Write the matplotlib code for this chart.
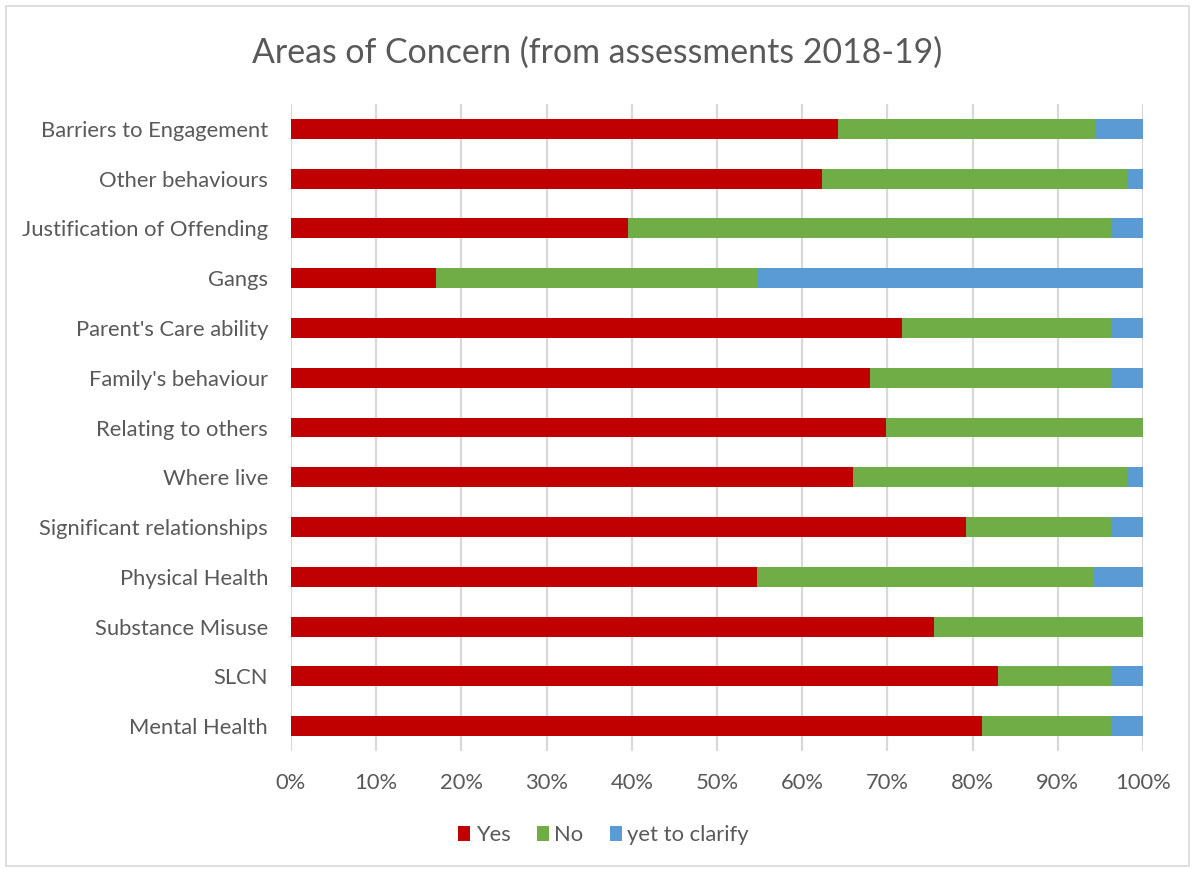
import matplotlib
matplotlib.use("Agg")
import matplotlib.pyplot as plt
from matplotlib.patches import Rectangle
from matplotlib.ticker import FuncFormatter

categories = [
    "Barriers to Engagement",
    "Other behaviours",
    "Justification of Offending",
    "Gangs",
    "Parent's Care ability",
    "Family's behaviour",
    "Relating to others",
    "Where live",
    "Significant relationships",
    "Physical Health",
    "Substance Misuse",
    "SLCN",
    "Mental Health",
]
yes = [64.2, 62.3, 39.6, 17.0, 71.7, 67.9, 69.8, 66.0, 79.2, 54.7, 75.5, 83.0, 81.1]
no = [30.2, 35.8, 56.6, 37.7, 24.5, 28.3, 30.2, 32.1, 17.0, 39.6, 24.5, 13.2, 15.1]
yet_to_clarify = [5.7, 1.9, 3.8, 45.3, 3.8, 3.8, 0.0, 1.9, 3.8, 5.7, 0.0, 3.8, 3.8]
x_ticks = [0, 10, 20, 30, 40, 50, 60, 70, 80, 90, 100]

plt.rcParams["font.family"] = ["Lato", "DejaVu Sans"]
text_color = "#595959"
label_size = 15.8

fig = plt.figure(figsize=(11.95, 8.69), dpi=100)
ax = fig.add_axes([291 / 1195, 1 - 751 / 869, (1143 - 291) / 1195, (751 - 104) / 869])

ypos = list(range(len(categories)))
h = 0.4
left_no = [a for a in yes]
left_yet = [a + b for a, b in zip(yes, no)]
ax.barh(ypos, yes, height=h, color="#C00000", label="Yes", zorder=3)
ax.barh(ypos, no, left=left_no, height=h, color="#70AD47", label="No", zorder=3)
ax.barh(ypos, yet_to_clarify, left=left_yet, height=h, color="#5B9BD5",
        label="yet to clarify", zorder=3)

ax.set_xlim(0, 100)
ax.set_ylim(len(categories) - 0.5, -0.5)
ax.set_xticks(x_ticks)
ax.xaxis.set_major_formatter(FuncFormatter(lambda v, p: f"{int(v)}%"))
ax.set_yticks(ypos)
ax.set_yticklabels(categories)
ax.grid(axis="x", color="#D9D9D9", linewidth=1.6, zorder=0)
for s in ax.spines.values():
    s.set_visible(False)
ax.tick_params(axis="y", length=0, pad=16.5, labelsize=label_size, labelcolor=text_color)
ax.tick_params(axis="x", length=0, pad=16, labelsize=label_size, labelcolor=text_color)

fig.text(0.5, 1 - 53 / 869, "Areas of Concern (from assessments 2018-19)",
         ha="center", va="center", fontsize=24.4, color=text_color)

leg = fig.legend(loc="center", bbox_to_anchor=(0.505, 1 - 835 / 869), ncol=3,
                 frameon=False, fontsize=label_size, handlelength=0.55, handleheight=0.7,
                 handletextpad=0.25, columnspacing=1.2)
for t in leg.get_texts():
    t.set_color(text_color)

fig.patches.append(Rectangle((6 / 1195, 1 - 866 / 869), 1183 / 1195, 860 / 869,
                             transform=fig.transFigure, fill=False,
                             edgecolor="#D9D9D9", linewidth=1.2))

fig.savefig("out.png", dpi=100, facecolor="white")
